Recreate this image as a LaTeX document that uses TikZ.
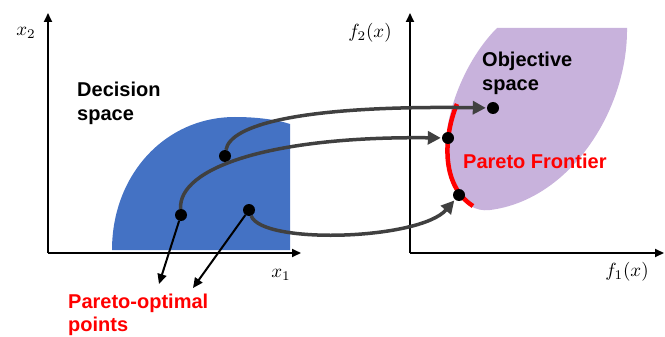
\documentclass[tikz,border=0pt]{standalone}
\usepackage{fontspec}
\setmainfont{Liberation Sans}
\usepackage{graphicx}
\usetikzlibrary{arrows.meta}
\definecolor{blueshape}{RGB}{68,114,196}
\definecolor{purpleshape}{RGB}{200,178,220}
\definecolor{conngray}{RGB}{64,64,64}
\definecolor{pred}{RGB}{255,0,0}
\newcommand{\mathlab}[1]{\scalebox{1.9}{$#1$}}
\begin{document}
\begin{tikzpicture}[x=1pt,y=-1pt,
  axis/.style={line width=2, -{Triangle[length=9,width=8]}},
  dot/.style={circle, fill=black, inner sep=0, minimum size=12},
  conn/.style={line width=3.5, draw=conngray, -{Triangle[length=13,width=13]}, shorten >=1},
  pointer/.style={line width=2, -{Triangle[length=10,width=9]}},
  lbl/.style={font=\fontsize{20}{24}\selectfont\bfseries, inner sep=0, anchor=base west},
  mlbl/.style={inner sep=0}]
\useasboundingbox (0,0) rectangle (665,337);
% shapes
\fill[blueshape] (112,250) .. controls (112,175) and (165,117) .. (235,117)
  .. controls (258,117) and (278,120) .. (290,124) -- (290,250) -- cycle;
\fill[purpleshape] (497,28) -- (627,28) .. controls (628,110) and (570,200) .. (490,210)
  .. controls (460,214) and (443,175) .. (446,140) .. controls (449,100) and (470,55) .. (497,28) -- cycle;
\draw[pred, line width=4.5] (457,104) .. controls (444,135) and (440,185) .. (473,206);
% axes
\coordinate (o1) at (48,253);
\coordinate (o1x) at (301,253);
\coordinate (o1y) at (48,13);
\coordinate (o2) at (410,253);
\coordinate (o2x) at (664,253);
\coordinate (o2y) at (410,13);
\draw[axis] (o1) -- (o1x);
\draw[axis] (o1) -- (o1y);
\draw[axis] (o2) -- (o2x);
\draw[axis] (o2) -- (o2y);
\node[mlbl] (lx2) at (26,33) {\mathlab{x_2}};
\node[mlbl] (lx1) at (281,275) {\mathlab{x_1}};
\node[mlbl] (lf2) at (370,33) {\mathlab{f_2(x)}};
\node[mlbl] (lf1) at (627,272) {\mathlab{f_1(x)}};
% texts
\node[lbl] (dec1) at (77,97) {Decision};
\node[lbl] (dec2) at (77,121) {space};
\node[lbl] (obj1) at (482,67) {Objective};
\node[lbl] (obj2) at (482,91) {space};
\node[lbl, text=pred] (pf) at (463,168) {Pareto Frontier};
\node[lbl, text=pred] (po1) at (68,308) {Pareto-optimal};
\node[lbl, text=pred] (po2) at (68,331) {points};
% dots
\node[dot] (d1) at (225,156) {};
\node[dot] (d2) at (181,215) {};
\node[dot] (d3) at (249,210) {};
\node[dot] (e1) at (493,108) {};
\node[dot] (e2) at (448,138) {};
\node[dot] (e3) at (459,195) {};
% connectors
\draw[conn] (d1) .. controls (230,125) and (300,105) .. (e1);
\draw[conn] (d2) .. controls (178,168) and (270,136) .. (e2);
\draw[conn] (d3) .. controls (262,245) and (420,240) .. (e3);
\coordinate (p1) at (159,284);
\coordinate (p2) at (193,288);
\draw[pointer] (d2) -- (p1);
\draw[pointer] (d3) -- (p2);
\end{tikzpicture}
\end{document}
